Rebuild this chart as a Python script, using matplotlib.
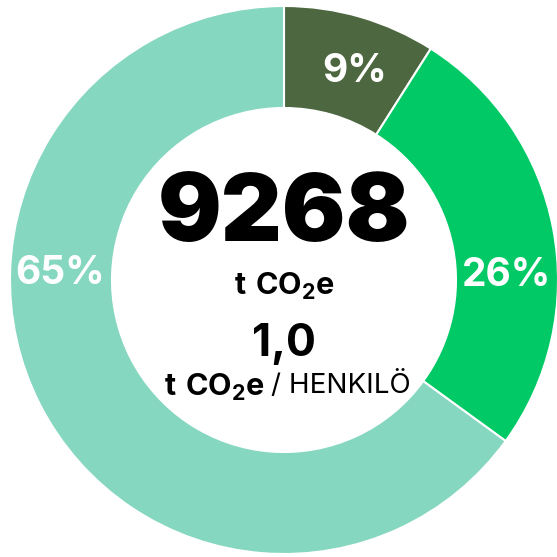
import matplotlib.pyplot as plt

shares = [9, 26, 65]
labels = ["9%", "26%", "65%"]
colors = ["#4d6840", "#00c965", "#86d7bf"]
total = "9268"
per_person = "1,0"

plt.rcParams['font.family'] = ['Inter', 'DejaVu Sans']
plt.rcParams['mathtext.fontset'] = 'custom'
plt.rcParams['mathtext.rm'] = 'Inter'
plt.rcParams['mathtext.bf'] = 'Inter:bold'

fig = plt.figure(figsize=(5.57, 5.57), dpi=100)
ax = fig.add_axes([0, 0, 1, 1])

cx, cy = 284, 277
R, w = 274, 102
ax.pie(shares, colors=colors, startangle=90, counterclock=False,
       radius=R, center=(cx, cy),
       wedgeprops=dict(width=w, edgecolor="white", linewidth=1.5))
ax.set_xlim(0, 557)
ax.set_ylim(0, 557)
ax.set_aspect("equal")
ax.axis("off")

# percentage labels (placed by hand like the original)
ax.text(355, 557 - 72, labels[0], color="white", fontsize=28, fontweight="bold", ha="center", va="center")
ax.text(506, 557 - 275, labels[1], color="white", fontsize=28, fontweight="bold", ha="center", va="center")
ax.text(60, 557 - 273, labels[2], color="white", fontsize=28, fontweight="bold", ha="center", va="center")

unit = r"$\mathbf{t\ CO_2e}$"
ax.text(cx, 557 - 216, total, fontsize=68, fontweight="black", ha="center", va="center", color="black")
ax.text(cx, 557 - 286, unit, fontsize=22, ha="center", va="center", color="black")
ax.text(cx, 557 - 344, per_person, fontsize=32, fontweight="bold", ha="center", va="center", color="black")
ax.text(265, 557 - 387, unit, fontsize=22, ha="right", va="center", color="black")
ax.text(271, 557 - 385, "/ HENKILÖ", fontsize=20, ha="left", va="center", color="black")

fig.savefig("out.png", dpi=100)
